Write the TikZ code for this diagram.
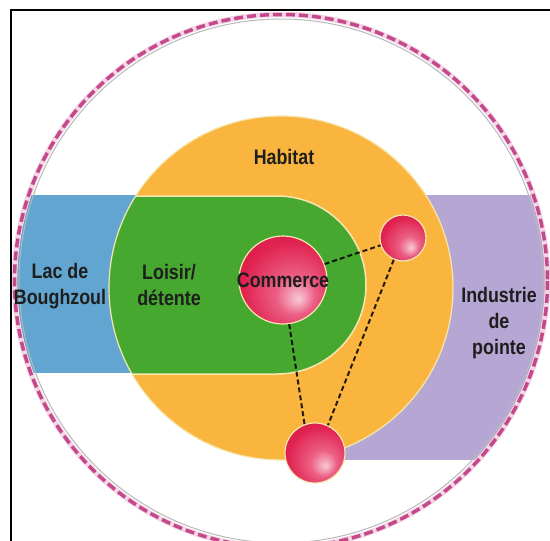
\documentclass[tikz,border=0pt]{standalone}
\usepackage{fontspec}
\newfontfamily\lblfont[FakeStretch=0.85]{Liberation Sans}
\definecolor{habitat}{HTML}{F9B53D}
\definecolor{loisir}{HTML}{47A830}
\definecolor{lac}{HTML}{62A5D0}
\definecolor{indus}{HTML}{B5A6D4}
\definecolor{ring}{HTML}{C4488A}
\definecolor{ringhalo}{HTML}{F4D6E6}
\definecolor{sphred}{HTML}{E0224F}
\definecolor{sphhi}{HTML}{F8CAD8}
\definecolor{sphmid}{HTML}{EC5F84}
\definecolor{sphdark}{HTML}{C0143F}
\definecolor{rim}{HTML}{F6E6B0}
\definecolor{ink}{HTML}{1E1E1E}
\pgfdeclareradialshading{sph}{\pgfpoint{9bp}{-11bp}}{color(0bp)=(sphhi); color(11bp)=(sphmid); color(27bp)=(sphred); color(50bp)=(sphdark)}
\begin{document}
\begin{tikzpicture}[x=1pt,y=-1pt,
  lbl/.style={font=\lblfont\bfseries\fontsize{21}{26}\selectfont, text=ink, align=center, inner sep=0pt},
  sphere/.style={circle, shading=sph, draw=rim, line width=1.2pt, inner sep=0pt},
  conn/.style={draw=black, draw opacity=0.85, line width=2pt, dash pattern=on 5pt off 3pt}]
\useasboundingbox (0,0) rectangle (550,541);
\fill[white] (0,0) rectangle (550,541);
% bands clipped by the outer circle
\begin{scope}
  \clip (281,281) circle[radius=264];
  \fill[indus] (340,195) rectangle (560,460);
  \fill[lac] (0,195) rectangle (200,373);
\end{scope}
% habitat disc
\fill[habitat] (281,288) circle[radius=172];
% loisir stadium clipped to habitat disc
\begin{scope}
  \clip (281,288) circle[radius=172];
  \fill[loisir] (0,196) -- (277,196) arc[start angle=-90, end angle=90, radius=89] -- (0,374) -- cycle;
  \draw[rim, line width=1.5pt] (0,196) -- (277,196) arc[start angle=-90, end angle=90, radius=89] -- (0,374);
\end{scope}
\draw[rim, line width=1.2pt] (281,288) circle[radius=172];
% outer dashed ring
\draw[gray!55, line width=1pt] (281,281) circle[radius=262];
\draw[ringhalo, line width=5.5pt] (281,281) circle[radius=266.5];
\draw[ring, line width=3.5pt, dash pattern=on 9pt off 4pt] (281,281) circle[radius=266.5];
% frame
\draw[black, line width=2pt] (11,541) -- (11,10) -- (550,10);
% spheres
\node[sphere, minimum size=88pt] (com) at (283,280) {};
\node[sphere, minimum size=46pt] (s2) at (403,238) {};
\node[sphere, minimum size=60pt] (s3) at (315,453) {};
% connectors
\draw[conn] (com.21) -- (s2.198);
\draw[conn] (com.278) -- (s3.110);
\draw[conn] (s2.247) -- (s3.65);
% labels
\node[lbl] (tcom) at (com.center) {Commerce};
\node[lbl] (thab) at (284,157) {Habitat};
\node[lbl] (tlac) at (60,286) {Lac de\\Boughzoul};
\node[lbl] (tloi) at (169,285) {Loisir/\\détente};
\node[lbl] (tind) at (499,323) {Industrie\\de\\pointe};
\end{tikzpicture}
\end{document}
